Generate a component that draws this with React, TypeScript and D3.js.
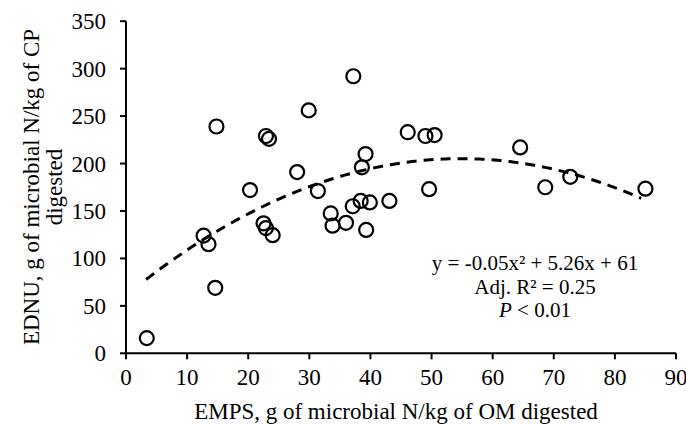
import React from "react";
import * as d3 from "d3";

const empsValues: number[] = [
  3.4, 12.7, 13.5, 14.6, 14.8, 20.3, 22.5, 22.9, 24.0, 22.9, 23.4, 28.0, 29.9,
  31.4, 33.5, 33.8, 36.0, 37.1, 37.2, 38.4, 38.6, 39.2, 39.3, 39.9, 43.1, 46.1,
  49.0, 50.5, 49.6, 64.5, 68.6, 72.7, 85.0,
];
const ednuValues: number[] = [
  16, 124, 115, 69, 239, 172, 137, 132, 124.5, 229, 226, 191, 256, 171, 147.4,
  134.5, 137.5, 155, 292, 160.6, 196, 210, 130, 159, 160.6, 233, 229, 230, 173,
  217, 175, 186, 173.5,
];
const xTicks: number[] = [0, 10, 20, 30, 40, 50, 60, 70, 80, 90];
const yTicks: number[] = [0, 50, 100, 150, 200, 250, 300, 350];
// fitted quadratic (as drawn): a*x^2 + b*x + c
const fitA = -0.048;
const fitB = 5.26;
const fitC = 61;
const fitRange: [number, number] = [3.3, 84.5];
const equationLines: string[] = ["y = -0.05x\u00B2 + 5.26x + 61", "Adj. R\u00B2 = 0.25"];
const xTitle = "EMPS, g of microbial N/kg of OM digested";
const yTitleLines: string[] = ["EDNU, g of microbial N/kg of CP", "digested"];

const W = 686;
const H = 425;
const FONT = "Liberation Serif, Times New Roman, serif";

export default function App() {
  const x = d3.scaleLinear().domain([0, 90]).range([126, 676]);
  const y = d3.scaleLinear().domain([0, 350]).range([353.3, 21.2]);

  const fitXs = d3.range(fitRange[0], fitRange[1] + 0.001, 0.5);
  const fitPts: [number, number][] = fitXs.map((v) => [v, fitA * v * v + fitB * v + fitC]);
  const line = d3
    .line<[number, number]>()
    .x((d) => x(d[0]))
    .y((d) => y(d[1]))
    .curve(d3.curveLinear);

  const x0 = x(0);
  const y0 = y(0);
  const ts = { fontFamily: FONT };

  return (
    <svg
      width={W}
      height={H}
      viewBox={`0 0 ${W} ${H}`}
      style={{ position: "absolute", left: 0, top: 0, background: "#fff", fontFamily: FONT }}
    >
      <rect x={0} y={0} width={W} height={H} fill="#fff" />
      {/* axes */}
      <line x1={x0} x2={x0} y1={y(350)} y2={y0} stroke="#000" strokeWidth={2} />
      <line x1={x0} x2={x(90)} y1={y0} y2={y0} stroke="#000" strokeWidth={2} />
      {yTicks.map((t) => (
        <g key={"y" + t}>
          <line x1={x0 - 6} x2={x0} y1={y(t)} y2={y(t)} stroke="#000" strokeWidth={2} />
          <text x={106} y={y(t)} dy="0.35em" textAnchor="end" fontSize={23} fill="#000" style={ts}>
            {t}
          </text>
        </g>
      ))}
      {xTicks.map((t) => (
        <g key={"x" + t}>
          <line x1={x(t)} x2={x(t)} y1={y0} y2={y0 + 6} stroke="#000" strokeWidth={2} />
          <text x={x(t)} y={385} textAnchor="middle" fontSize={23} fill="#000" style={ts}>
            {t}
          </text>
        </g>
      ))}
      {/* fit curve */}
      <path
        d={line(fitPts) || ""}
        fill="none"
        stroke="#000"
        strokeWidth={3}
        strokeDasharray="10 7"
      />
      {/* points */}
      {empsValues.map((v, i) => (
        <circle
          key={"p" + i}
          cx={x(v)}
          cy={y(ednuValues[i])}
          r={7}
          fill="none"
          stroke="#000"
          strokeWidth={2.2}
        />
      ))}
      {/* equation */}
      <text x={535} y={270} textAnchor="middle" fontSize={21} fill="#000" style={ts}>
        {equationLines[0]}
      </text>
      <text x={535} y={293.5} textAnchor="middle" fontSize={21} fill="#000" style={ts}>
        {equationLines[1]}
      </text>
      <text x={535} y={317} textAnchor="middle" fontSize={21} fill="#000" style={ts}>
        <tspan fontStyle="italic">P</tspan>
        {" < 0.01"}
      </text>
      {/* axis titles */}
      <text x={396} y={419} textAnchor="middle" fontSize={23} fill="#000" style={ts}>
        {xTitle}
      </text>
      <g transform={`translate(0, 187) rotate(-90)`}>
        <text x={0} y={39} textAnchor="middle" fontSize={23} fill="#000" style={ts}>
          {yTitleLines[0]}
        </text>
        <text x={0} y={62} textAnchor="middle" fontSize={23} fill="#000" style={ts}>
          {yTitleLines[1]}
        </text>
      </g>
    </svg>
  );
}
